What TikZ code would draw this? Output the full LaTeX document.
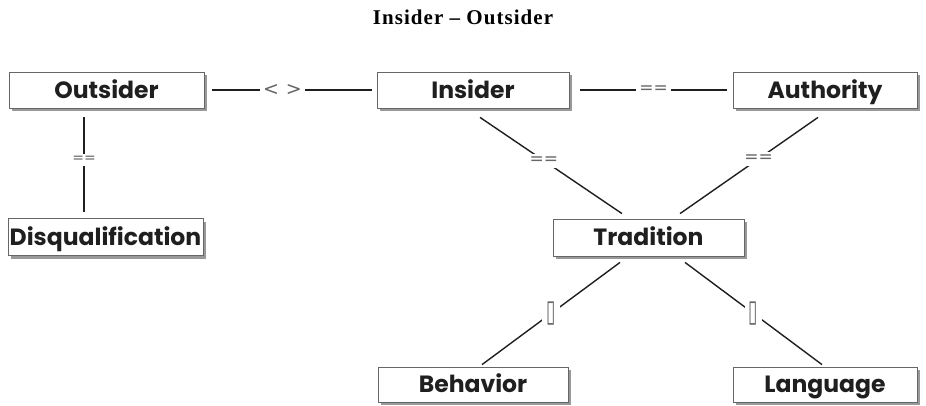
\documentclass[tikz,border=0pt]{standalone}
\usepackage{fontspec}
\setmainfont{Liberation Serif}
\newfontfamily\titlefont[LetterSpace=5]{Liberation Serif}
\newfontfamily\boxfont{Poppins}
\newfontfamily\lblfont{DejaVu Sans}
\usetikzlibrary{calc,shadows}

\tikzset{
  box/.style={draw=black!60, line width=0.8pt, fill=white, inner sep=0pt,
    text=black!88, font=\boxfont\bfseries\fontsize{23.5}{26}\selectfont,
    text height=16.5pt, text depth=0pt,
    drop shadow={shadow xshift=3pt, shadow yshift=-3pt, fill=black!40, opacity=1}},
  link/.style={draw=black!88, line width=1.4pt},
  lbl/.style={fill=white, inner sep=3pt, text=black!60,
    font=\lblfont\fontsize{17}{19}\selectfont},
  tofu/.style={fill=white, inner sep=4pt, text=black!60,
    font=\lblfont\fontsize{17}{19}\selectfont},
}

\begin{document}
\begin{tikzpicture}[x=1pt, y=-1pt]
\useasboundingbox (0,0) rectangle (926,405);

% title
\node (title) at (463,17) {\titlefont\bfseries\fontsize{21}{24}\selectfont Insider – Outsider};

% concept boxes
\node[box, minimum width=195pt, minimum height=36pt] (out)  at (106.5,90)  {Outsider};
\node[box, minimum width=195pt, minimum height=37pt] (dis)  at (105.5,237) {Disqualification};
\node[box, minimum width=192pt, minimum height=36pt] (ins)  at (473,90)    {Insider};
\node[box, minimum width=184pt, minimum height=36pt] (auth) at (825,90)    {Authority};
\node[box, minimum width=191pt, minimum height=37pt] (trad) at (648.5,237.5) {Tradition};
\node[box, minimum width=190pt, minimum height=35pt] (beh)  at (473,384.5) {Behavior};
\node[box, minimum width=184pt, minimum height=35pt] (lang) at (825,384.5) {Language};

% connector end points near the boxes
\coordinate (outR)  at ($(out.east)+(8,0)$);
\coordinate (insL)  at ($(ins.west)+(-5,0)$);
\coordinate (insR)  at ($(ins.east)+(11,0)$);
\coordinate (authL) at ($(auth.west)+(-6,0)$);
\coordinate (outB)  at ($(out.south)+(-22.5,9)$);
\coordinate (disT)  at ($(dis.north)+(-21.5,-6.5)$);
\coordinate (insB)  at ($(ins.south)+(7,9)$);
\coordinate (authB) at ($(auth.south)+(-7,9)$);
\coordinate (tradTL) at ($(trad.north)+(-26.5,-5)$);
\coordinate (tradTR) at ($(trad.north)+(31.5,-5)$);
\coordinate (tradBL) at ($(trad.south)+(-28.5,6)$);
\coordinate (tradBR) at ($(trad.south)+(36.5,6)$);
\coordinate (behT)  at ($(beh.north)+(9,-2)$);
\coordinate (langT) at ($(lang.north)+(-3,-2)$);

% connectors with their relation marks
\draw[link] (outR) -- node[lbl, pos=0.44, font=\lblfont\fontsize{19}{21}\selectfont] {<\hspace{7pt}>} (insL);
\draw[link] (insR) -- node[lbl, pos=0.5] {==} (authL);
\draw[link] (outB) -- node[lbl, pos=0.45, font=\lblfont\fontsize{14}{16}\selectfont] {==} (disT);
\draw[link] (insB) -- node[lbl, pos=0.45] {==} (tradTL);
\draw[link] (authB) -- node[lbl, pos=0.43] {==} (tradTR);
\draw[link] (tradBL) -- node[tofu, pos=0.5] {\scalebox{1}[1.8]{▯}} (behT);
\draw[link] (tradBR) -- node[tofu, pos=0.5] {\scalebox{1}[1.8]{▯}} (langT);
\end{tikzpicture}
\end{document}
